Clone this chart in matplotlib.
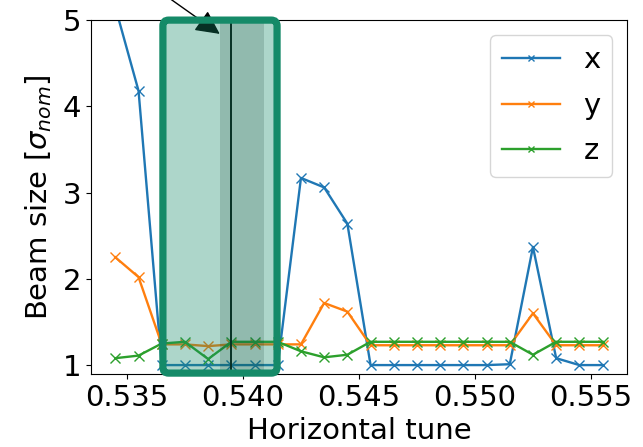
import matplotlib
matplotlib.use("Agg")
import matplotlib.pyplot as plt
from matplotlib.patches import FancyBboxPatch

tune = [0.5345, 0.5355, 0.5365, 0.5375, 0.5385, 0.5395, 0.5405, 0.5415,
        0.5425, 0.5435, 0.5445, 0.5455, 0.5465, 0.5475, 0.5485, 0.5495,
        0.5505, 0.5515, 0.5525, 0.5535, 0.5545, 0.5555]
size_x = [5.15, 4.18, 1.0, 1.0, 1.0, 1.0, 1.0, 1.0, 3.17, 3.06, 2.64, 1.0,
          1.0, 1.0, 1.0, 1.0, 1.0, 1.01, 2.37, 1.08, 1.0, 1.0]
size_y = [2.25, 2.02, 1.24, 1.24, 1.22, 1.24, 1.24, 1.24, 1.24, 1.72, 1.62, 1.23,
          1.23, 1.23, 1.23, 1.23, 1.23, 1.23, 1.60, 1.23, 1.23, 1.23]
size_z = [1.08, 1.11, 1.25, 1.27, 1.07, 1.27, 1.27, 1.27, 1.16, 1.09, 1.12, 1.27,
          1.27, 1.27, 1.27, 1.27, 1.27, 1.27, 1.12, 1.27, 1.27, 1.27]
labels = ["x", "y", "z"]

box_range = (0.53655, 0.54147)
band_range = (0.5390, 0.5409)
marker_tune = 0.5395
arrow_tip = (0.5390, 4.84)
arrow_tail = (0.5358, 5.45)

plt.rcParams['font.family'] = ['DejaVu Sans']
plt.rcParams['font.size'] = 21

fig = plt.figure(figsize=(6.43, 4.47), dpi=100)
ax = fig.add_axes([0.1415, 0.163, 0.8335, 0.792])

for vals, lab in zip([size_x, size_y, size_z], labels):
    ax.plot(tune, vals, marker='x', lw=1.7, ms=7, label=lab)

ax.set_ylim(0.895, 5.0)
ax.set_xlabel("Horizontal tune", labelpad=4)
ax.set_ylabel(r"Beam size [$\sigma_{nom}$]", labelpad=6)
ax.set_yticks([1, 2, 3, 4, 5])
ax.set_xticks([0.535, 0.540, 0.545, 0.550, 0.555])
ax.set_xticklabels(["0.535", "0.540", "0.545", "0.550", "0.555"])

ax.annotate("", xy=arrow_tip, xytext=arrow_tail, annotation_clip=False,
            arrowprops=dict(arrowstyle='-|>', color='black', lw=1,
                            mutation_scale=37, shrinkA=0, shrinkB=0))

ax.axvspan(band_range[0], band_range[1], color='black', alpha=0.17, lw=0, zorder=3)
ax.axvline(marker_tune, color='black', lw=1.4, zorder=4)

green = '#158a68'
ylo, yhi = 0.907, 5.0
aspect = (1 / 86) / (0.005 / 116)
fill = FancyBboxPatch((box_range[0], ylo), box_range[1] - box_range[0], yhi - ylo,
                      boxstyle="round,pad=0,rounding_size=0.00025",
                      mutation_aspect=aspect, facecolor=green, alpha=0.35,
                      edgecolor='none', clip_on=False, zorder=5)
ax.add_patch(fill)
edge = FancyBboxPatch((box_range[0], ylo), box_range[1] - box_range[0], yhi - ylo,
                      boxstyle="round,pad=0,rounding_size=0.00025",
                      mutation_aspect=aspect, facecolor='none',
                      edgecolor=green, lw=5.2, clip_on=False, zorder=6)
ax.add_patch(edge)

ax.legend(loc='upper right', markerscale=0.7, labelspacing=0.6)

fig.savefig("out.png", dpi=100)
